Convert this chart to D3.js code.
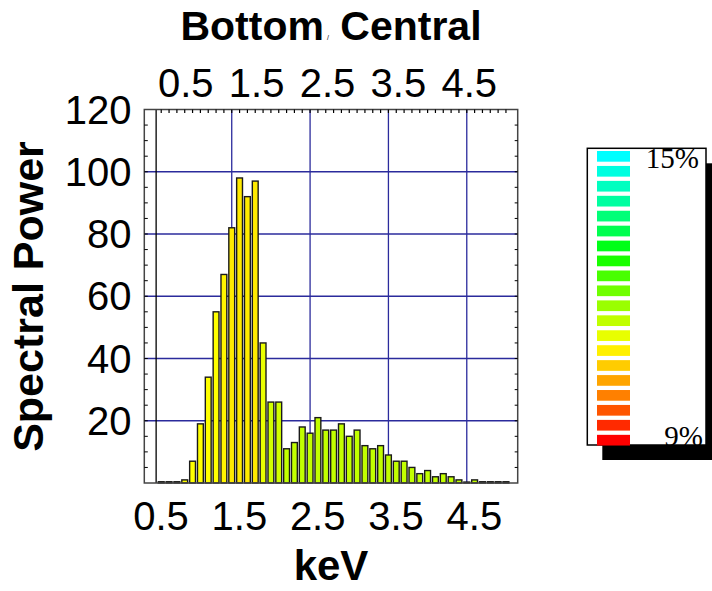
<!DOCTYPE html>
<html>
<head>
<meta charset="utf-8">
<script src="https://cdn.jsdelivr.net/npm/d3@7"></script>
<style>
    body { margin: 0; background: #fff; }
    text { font-family: "Liberation Sans", Arial, sans-serif; }
</style>
</head>
<body>
<div id="graph1"></div>
<script>
// Bin centres (keV) and spectral power
const keV = [0.6, 0.7, 0.8, 0.9, 1.0, 1.1, 1.2, 1.3, 1.4, 1.5, 1.6, 1.7, 1.8, 1.9, 2.0,
    2.1, 2.2, 2.3, 2.4, 2.5, 2.6, 2.7, 2.8, 2.9, 3.0, 3.1, 3.2, 3.3, 3.4, 3.5,
    3.6, 3.7, 3.8, 3.9, 4.0, 4.1, 4.2, 4.3, 4.4, 4.5, 4.6, 4.7, 4.8, 4.9, 5.0];
const power = [0.4, 0.4, 0.4, 1, 7, 19, 34, 55, 67, 82, 98, 92, 97, 45, 26,
    26, 11, 13, 18, 16, 21, 17, 17, 19, 15, 17, 12, 11, 12, 9,
    7, 7, 5, 3, 4, 2, 3, 2, 1, 0.3, 1, 0.4, 0.4, 0.4, 0.4];
// percentage used to colour each bar (same units as the legend)
const percent = [11.0, 11.0, 11.0, 11.0, 11.0, 11.0, 11.0, 11.0, 10.95, 10.9, 10.9, 10.9, 10.9, 11.2, 11.35,
    11.35, 11.5, 11.5, 11.5, 11.5, 11.5, 11.5, 11.5, 11.5, 11.5, 11.5, 11.5, 11.5, 11.5, 11.5,
    11.5, 11.5, 11.5, 11.5, 11.5, 11.5, 11.5, 11.5, 11.5, 11.5, 11.5, 11.5, 11.5, 11.5, 11.5];

const xTickLabels = [0.5, 1.5, 2.5, 3.5, 4.5];
const yTickLabels = [20, 40, 60, 80, 100, 120];
const gridX = [1.5, 2.5, 3.5, 4.5];
const gridY = [20, 40, 60, 80, 100];

// legend swatches, top (15%) to bottom (9%)
const legendColors = ["#00ffff", "#00ffe0", "#00ffc0", "#00ffa0", "#00ff78", "#00ff50", "#00ff18",
    "#18ff00", "#48ff00", "#70ff00", "#9aff00", "#c0ff00", "#e8ff00", "#fff000",
    "#ffcc00", "#ffa500", "#ff8000", "#ff5500", "#ff2a00", "#ff0000"];
const legendLabels = ["15%", "9%"];

const width = 712, height = 591;
const frame = {left: 144.3, right: 517.7, top: 109.5, bottom: 483};

let svg = d3.select("#graph1")
    .append("svg")
    .attr("width", width)
    .attr("height", height);

let x = d3.scaleLinear()
    .domain([0.384, 5.15])
    .range([frame.left, frame.right]);

// the top labels are laid out on their own spacing
let xTop = d3.scaleLinear()
    .domain([0.5, 4.5])
    .range([185.7, 469.3]);

let y = d3.scaleLinear()
    .domain([0, 120])
    .range([frame.bottom, frame.top]);

let barColor = d3.scaleLinear()
    .domain([10.9, 11.0, 11.2, 11.35, 11.5])
    .range(["#ffea00", "#ffff00", "#eaff00", "#d2ff00", "#c2ff00"]);

// grid lines
svg.append("g").selectAll("line.gx").data(gridX).enter().append("line")
    .attr("x1", d => x(d)).attr("x2", d => x(d))
    .attr("y1", frame.top).attr("y2", frame.bottom)
    .attr("stroke", "#2b2b9c").attr("stroke-width", 1.3);
svg.append("g").selectAll("line.gy").data(gridY).enter().append("line")
    .attr("x1", frame.left).attr("x2", frame.right)
    .attr("y1", d => y(d)).attr("y2", d => y(d))
    .attr("stroke", "#2b2b9c").attr("stroke-width", 1.3);

// black reference line near 0.5 keV
svg.append("line")
    .attr("x1", x(0.535)).attr("x2", x(0.535))
    .attr("y1", frame.top).attr("y2", frame.bottom)
    .attr("stroke", "#000").attr("stroke-width", 1.3);

// bars
let data = keV.map((k, i) => ({keV: k, power: power[i], pct: percent[i]}));
let binW = x(0.1) - x(0);
svg.append("g").selectAll("rect").data(data).enter().append("rect")
    .attr("x", d => x(d.keV) - binW / 2 + 1)
    .attr("y", d => y(d.power))
    .attr("width", binW - 2)
    .attr("height", d => y(0) - y(d.power))
    .attr("fill", d => barColor(d.pct))
    .attr("stroke", "#1a1a1a")
    .attr("stroke-width", 1.4);

// frame
svg.append("rect")
    .attr("x", frame.left).attr("y", frame.top)
    .attr("width", frame.right - frame.left)
    .attr("height", frame.bottom - frame.top)
    .attr("fill", "none")
    .attr("stroke", "#444").attr("stroke-width", 1.5);

// inner minor ticks
let minorX = d3.range(6, 51).map(d => d / 10);
svg.append("g").selectAll("line").data(minorX).enter().append("line")
    .attr("x1", d => x(d)).attr("x2", d => x(d))
    .attr("y1", frame.top).attr("y2", frame.top + 3.5)
    .attr("stroke", "#000").attr("stroke-width", 1.2);
let minorY = d3.range(5, 120, 5);
svg.append("g").selectAll("line").data(minorY).enter().append("line")
    .attr("x1", frame.left).attr("x2", frame.left + 3.5)
    .attr("y1", d => y(d)).attr("y2", d => y(d))
    .attr("stroke", "#000").attr("stroke-width", 1);
svg.append("g").selectAll("line").data(minorY).enter().append("line")
    .attr("x1", frame.right - 3).attr("x2", frame.right)
    .attr("y1", d => y(d)).attr("y2", d => y(d))
    .attr("stroke", "#000").attr("stroke-width", 1);

// bottom axis labels
svg.append("g").selectAll("text").data(xTickLabels).enter().append("text")
    .attr("x", d => x(d) + 7.6)
    .attr("y", 530)
    .style("text-anchor", "middle")
    .style("font-size", "40px")
    .text(d => d3.format(".1f")(d));

// top axis labels
svg.append("g").selectAll("text").data(xTickLabels).enter().append("text")
    .attr("x", d => xTop(d))
    .attr("y", 96.7)
    .style("text-anchor", "middle")
    .style("font-size", "40px")
    .text(d => d3.format(".1f")(d));

// left axis labels
svg.append("g").selectAll("text").data(yTickLabels).enter().append("text")
    .attr("x", 131.5)
    .attr("y", d => y(d) + 14)
    .style("text-anchor", "end")
    .style("font-size", "40px")
    .text(d => d);

// title
let title = svg.append("text")
    .attr("x", (frame.left + frame.right) / 2)
    .attr("y", 40)
    .style("text-anchor", "middle")
    .style("font-size", "41px")
    .style("font-weight", "bold");
title.append("tspan").text("Bottom");
title.append("tspan").style("font-size", "7px").style("font-weight", "normal").attr("dx", 3).text("/");
title.append("tspan").text(" Central");

// axis titles
svg.append("text")
    .attr("x", (frame.left + frame.right) / 2)
    .attr("y", 580)
    .style("text-anchor", "middle")
    .style("font-size", "42px")
    .style("font-weight", "bold")
    .text("keV");

svg.append("text")
    .attr("transform", `translate(43, 296.5) rotate(-90)`)
    .style("text-anchor", "middle")
    .style("font-size", "43px")
    .style("font-weight", "bold")
    .text("Spectral Power");

// legend
let legend = {left: 587.3, top: 148.3, right: 706, bottom: 445};
svg.append("rect")
    .attr("x", legend.left + 15).attr("y", legend.top + 15)
    .attr("width", legend.right - legend.left)
    .attr("height", legend.bottom - legend.top)
    .attr("fill", "#000");
svg.append("rect")
    .attr("x", legend.left).attr("y", legend.top)
    .attr("width", legend.right - legend.left)
    .attr("height", legend.bottom - legend.top)
    .attr("fill", "#fff")
    .attr("stroke", "#000").attr("stroke-width", 1.5);

let swatchY = d3.scaleBand()
    .domain(d3.range(legendColors.length))
    .range([151, 441.7 + 14.74 - 10.7])
    .paddingInner(0.27);
svg.append("g").selectAll("rect").data(legendColors).enter().append("rect")
    .attr("x", 597)
    .attr("y", (d, i) => swatchY(i))
    .attr("width", 33)
    .attr("height", 10.7)
    .attr("fill", d => d);

svg.append("text")
    .attr("x", 699).attr("y", 168.3)
    .style("text-anchor", "end")
    .style("font-family", "'Liberation Serif', 'Times New Roman', serif")
    .style("font-size", "29px")
    .text(legendLabels[0]);
svg.append("text")
    .attr("x", 703).attr("y", 445.5)
    .style("text-anchor", "end")
    .style("font-family", "'Liberation Serif', 'Times New Roman', serif")
    .style("font-size", "29px")
    .text(legendLabels[1]);
</script>
</body>
</html>
